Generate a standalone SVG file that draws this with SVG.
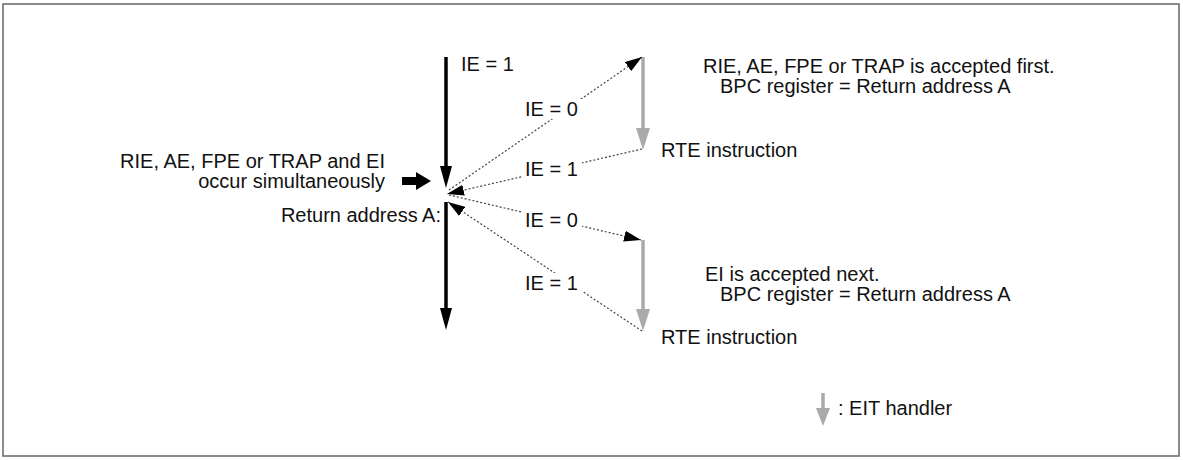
<svg xmlns="http://www.w3.org/2000/svg" width="1183" height="460" viewBox="0 0 1183 460">
<style>
text{font-family:"Liberation Sans",Arial,sans-serif;font-size:20px;fill:#111}
.dot{stroke:#444;stroke-width:1.2;stroke-dasharray:2 2;fill:none}
.blk{stroke:#000;stroke-width:3.5;fill:none}
.gry{stroke:#aaa;stroke-width:3.5;fill:none}
.bg{fill:#fff}
</style>
<defs>
<marker id="ah" markerWidth="17" markerHeight="11" refX="17" refY="5.5" orient="auto" markerUnits="userSpaceOnUse">
<path d="M0,0 L17,5.5 L0,11 Z" fill="#000"/>
</marker>
</defs>
<rect x="3" y="4" width="1176" height="452" fill="#fff" stroke="#666" stroke-width="1.5"/>
<g id="connectors">
<line class="blk" x1="446" y1="57" x2="446" y2="168"/>
<polygon points="440,166 452,166 446,188" fill="#000"/>
<line class="blk" x1="446" y1="202" x2="446" y2="310"/>
<polygon points="440,308 452,308 446,330" fill="#000"/>
<line class="gry" x1="643" y1="57" x2="643" y2="130"/>
<polygon points="636,128 650,128 643,150" fill="#aaa"/>
<line class="gry" x1="643" y1="240" x2="643" y2="311"/>
<polygon points="636,309 650,309 643,331" fill="#aaa"/>
<line class="dot" x1="449" y1="190" x2="642" y2="57" marker-end="url(#ah)"/>
<line class="dot" x1="642" y1="149" x2="447" y2="194" marker-end="url(#ah)"/>
<line class="dot" x1="449" y1="195" x2="641" y2="240" marker-end="url(#ah)"/>
<line class="dot" x1="642" y1="331" x2="448" y2="202" marker-end="url(#ah)"/>
<polygon points="402,177 416,177 416,172 431,181 416,190 416,185 402,185" fill="#000"/>
</g>
<g id="labels">
<rect class="bg" x="522" y="99" width="60" height="20"/>
<text x="525" y="116">IE = 0</text>
<rect class="bg" x="522" y="159" width="60" height="20"/>
<text x="525" y="176">IE = 1</text>
<rect class="bg" x="522" y="210" width="60" height="20"/>
<text x="525" y="227">IE = 0</text>
<rect class="bg" x="522" y="273" width="60" height="20"/>
<text x="525" y="290">IE = 1</text>
<text x="461" y="71">IE = 1</text>
</g>
<g id="node-source">
<text x="385" y="168" text-anchor="end">RIE, AE, FPE or TRAP and EI</text>
<text x="385" y="188" text-anchor="end">occur simultaneously</text>
<text x="441" y="222" text-anchor="end">Return address A:</text>
</g>
<g id="node-first">
<text x="703" y="73">RIE, AE, FPE or TRAP is accepted first.</text>
<text x="720" y="93">BPC register = Return address A</text>
<text x="661" y="157">RTE instruction</text>
</g>
<g id="node-next">
<text x="705" y="281">EI is accepted next.</text>
<text x="720" y="301">BPC register = Return address A</text>
<text x="661" y="344">RTE instruction</text>
</g>
<g id="legend">
<line class="gry" x1="823" y1="393" x2="823" y2="410"/>
<polygon points="816,408 830,408 823,426" fill="#aaa"/>
<text x="838" y="415">: EIT handler</text>
</g>
</svg>
